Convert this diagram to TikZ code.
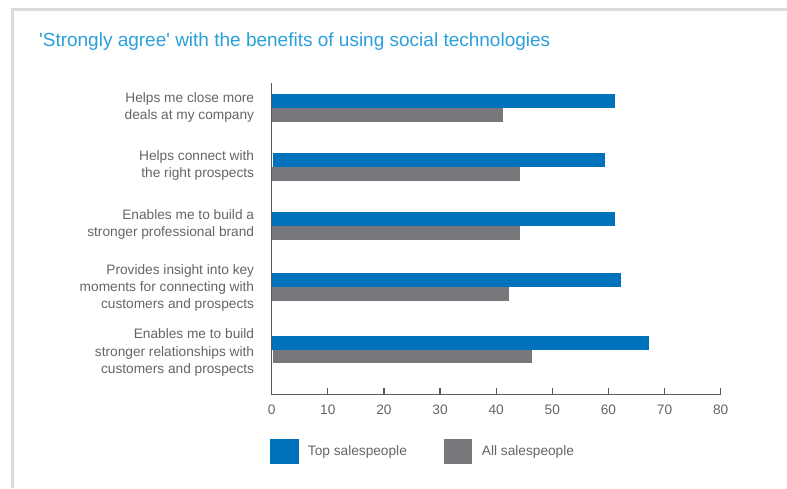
\documentclass[tikz,border=0pt]{standalone}
\usepackage{fontspec}
\setmainfont{Liberation Sans}[Ligatures=TeXOff]
\definecolor{titleblue}{RGB}{41,160,218}
\definecolor{barblue}{RGB}{0,114,188}
\definecolor{bargray}{RGB}{119,120,123}
\definecolor{txtgray}{RGB}{100,101,104}
\definecolor{axisgray}{RGB}{88,89,91}
\definecolor{framegray}{RGB}{217,220,223}
\begin{document}
\begin{tikzpicture}[x=1pt,y=-1pt,
  lbl/.style={anchor=east,align=right,inner sep=0pt,text=txtgray,font=\fontsize{13.7}{17.3}\selectfont},
  ticklbl/.style={inner sep=0pt,text=txtgray,font=\fontsize{13.7}{16}\selectfont},
  legtxt/.style={anchor=west,inner sep=0pt,text=txtgray,font=\fontsize{13.7}{16}\selectfont},
  topbar/.style={fill=barblue},
  allbar/.style={fill=bargray},
  axisline/.style={draw=axisgray,line width=1.3pt}]
\useasboundingbox (0,0) rectangle (787,488);
% frame
\draw[framegray,line width=2.5pt] (12.5,488) -- (12.5,9.5) -- (787,9.5);
% title
\node[anchor=west,inner sep=0pt,text=titleblue,font=\fontsize{19}{22}\selectfont] (title) at (39,41.5) {'Strongly agree' with the benefits of using social technologies};
% scale: x = 271.7 + 5.6125*value
\coordinate (o) at (271.7,394.7);
\coordinate (ytop) at (271.7,83);
% bars
\fill[topbar] (271.7,94) rectangle (615.3,108);
\fill[allbar] (271.7,108) rectangle (502.7,121.7);
\fill[topbar] (273.3,153) rectangle (604.7,167);
\fill[allbar] (271.7,167) rectangle (520,180.7);
\fill[topbar] (271.7,212) rectangle (615.3,226);
\fill[allbar] (271.7,226) rectangle (520,240);
\fill[topbar] (271.7,273.3) rectangle (621,287.3);
\fill[allbar] (271.7,287.3) rectangle (508.7,301.3);
\fill[topbar] (271.7,336) rectangle (648.7,350);
\fill[allbar] (273.3,350) rectangle (531.7,362.7);
% axes
\coordinate (xend) at (720.7,394.7);
\draw[axisline] (ytop) -- (o) -- (xend);
\foreach \v in {10,20,...,80}{
  \draw[axisline] (271.7+5.6125*\v,394.7) -- (271.7+5.6125*\v,387.7);
}
\foreach \v in {0,10,...,80}{
  \node[ticklbl] (t\v) at (271.7+5.6125*\v,409.3) {\v};
}
% category labels
\node[lbl] (l1) at (254.3,107.3) {Helps me close more\\deals at my company};
\node[lbl] (l2) at (254.3,165.5) {Helps connect with\\the right prospects};
\node[lbl] (l3) at (254.3,224.2) {Enables me to build a\\stronger professional brand};
\node[lbl] (l4) at (254.3,288) {Provides insight into key\\moments for connecting with\\customers and prospects};
\node[lbl] (l5) at (254.3,352.5) {Enables me to build\\stronger relationships with\\customers and prospects};
% legend
\fill[barblue] (270,439.3) rectangle (298.7,464);
\node[legtxt] (lg1) at (307.7,451.7) {Top salespeople};
\fill[bargray] (443.7,439.3) rectangle (472.3,464);
\node[legtxt] (lg2) at (481.7,451.7) {All salespeople};
\end{tikzpicture}
\end{document}
